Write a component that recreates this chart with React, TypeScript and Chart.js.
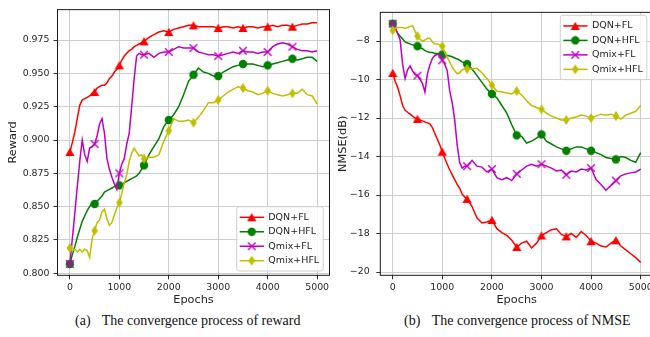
import React, { useEffect, useRef } from "react";
import { Chart, registerables } from "chart.js";

Chart.register(...registerables);

// ---------- data ----------
const epochs = [
  0, 50, 100, 150, 200, 250, 300, 350, 400, 450, 500, 550, 600, 650, 700, 750,
  800, 850, 900, 950, 1000, 1050, 1100, 1150, 1200, 1250, 1300, 1350, 1400, 1450, 1500,
  1600, 1700, 1800, 1900, 2000, 2100, 2200, 2300, 2400, 2500, 2600, 2700, 2800, 2900,
  3000, 3100, 3200, 3300, 3400, 3500, 3600, 3700, 3800, 3900, 4000, 4100, 4200, 4300,
  4400, 4500, 4600, 4700, 4800, 4900, 5000,
];

const seriesNames = ["DQN+FL", "DQN+HFL", "Qmix+FL", "Qmix+HFL"];

const rewardDqnFl = [
  0.891, 0.898, 0.906, 0.916, 0.926, 0.93, 0.931, 0.932, 0.933, 0.935, 0.936, 0.939, 0.94,
  0.941, 0.941, 0.943, 0.946, 0.948, 0.951, 0.953, 0.956, 0.96, 0.963, 0.965, 0.967, 0.968,
  0.97, 0.971, 0.972, 0.973, 0.974,
  0.977, 0.979, 0.981, 0.982, 0.981, 0.983, 0.984, 0.985, 0.986, 0.986, 0.985, 0.985, 0.985,
  0.985, 0.984, 0.985, 0.985, 0.984, 0.985, 0.984, 0.985, 0.985, 0.984, 0.985, 0.985, 0.986,
  0.985, 0.986, 0.986, 0.985, 0.986, 0.987, 0.987, 0.988, 0.988,
];
const rewardDqnHfl = [
  0.807, 0.814, 0.82, 0.827, 0.833, 0.839, 0.843, 0.847, 0.85, 0.853, 0.852, 0.854, 0.856,
  0.858, 0.861, 0.862, 0.863, 0.864, 0.865, 0.866, 0.866, 0.866, 0.868, 0.869, 0.87, 0.871,
  0.872, 0.873, 0.875, 0.878, 0.881,
  0.889, 0.895, 0.901, 0.91, 0.915, 0.919, 0.925, 0.934, 0.944, 0.949, 0.954, 0.951, 0.95,
  0.948, 0.948, 0.951, 0.953, 0.955, 0.956, 0.957, 0.957, 0.957, 0.956, 0.955, 0.956, 0.957,
  0.958, 0.959, 0.96, 0.961, 0.96, 0.961, 0.962, 0.962, 0.959,
];
const rewardQmixFl = [
  0.807, 0.826, 0.845, 0.865, 0.884, 0.9, 0.889, 0.884, 0.894, 0.895, 0.897, 0.903, 0.912,
  0.916, 0.905, 0.886, 0.878, 0.872, 0.867, 0.863, 0.875, 0.882, 0.886, 0.897, 0.905, 0.925,
  0.946, 0.963, 0.965, 0.964, 0.964,
  0.965, 0.962, 0.965, 0.966, 0.966, 0.968, 0.97, 0.969, 0.969, 0.969, 0.966, 0.965, 0.964,
  0.964, 0.963, 0.964, 0.965, 0.966, 0.965, 0.967, 0.966, 0.966, 0.965, 0.966, 0.966, 0.97,
  0.972, 0.973, 0.972, 0.97, 0.968, 0.967, 0.967, 0.966, 0.967,
];
const rewardQmixHfl = [
  0.819, 0.817, 0.818, 0.816, 0.818, 0.816, 0.818, 0.817, 0.812, 0.826, 0.832, 0.838, 0.84,
  0.846, 0.848, 0.841, 0.836, 0.838, 0.844, 0.849, 0.853, 0.86, 0.868, 0.874, 0.884, 0.89,
  0.894, 0.891, 0.888, 0.889, 0.886,
  0.887, 0.887, 0.889, 0.899, 0.907, 0.916, 0.914, 0.914, 0.915, 0.913, 0.917, 0.922, 0.928,
  0.928, 0.93, 0.933, 0.936, 0.938, 0.94, 0.939, 0.937, 0.936, 0.934, 0.935, 0.937, 0.935,
  0.934, 0.933, 0.934, 0.935, 0.935, 0.938, 0.934, 0.933, 0.927,
];

const nmseDqnFl = [
  -9.66, -10.1, -10.4, -10.85, -11.35, -11.6, -11.7, -11.8, -11.9, -12.0, -12.05, -12.1,
  -12.15, -12.2, -12.25, -12.3, -12.5, -12.8, -13.1, -13.4, -13.75, -14.1, -14.4, -14.7,
  -14.95, -15.2, -15.45, -15.65, -15.95, -16.1, -16.2,
  -16.6, -17.2, -17.45, -17.4, -17.3, -17.75, -17.95, -18.1, -18.35, -18.7, -18.5, -18.4,
  -18.75, -18.5, -18.1, -17.95, -17.8, -17.75, -18.05, -18.15, -18.0, -18.2, -17.9, -18.1,
  -18.4, -18.5, -18.65, -18.7, -18.5, -18.35, -18.65, -18.85, -19.05, -19.25, -19.5,
];
const nmseDqnHfl = [
  -7.1, -7.35, -7.6, -7.75, -7.9, -8.05, -8.1, -8.15, -8.2, -8.25, -8.27, -8.35, -8.4, -8.5,
  -8.55, -8.6, -8.6, -8.65, -8.65, -8.7, -8.7, -8.72, -8.75, -8.78, -8.82, -8.88, -8.93, -9.0,
  -9.08, -9.14, -9.2,
  -9.45, -9.8, -10.15, -10.5, -10.75, -10.95, -11.35, -11.75, -12.35, -12.9, -12.95, -13.3,
  -13.2, -13.05, -12.85, -13.2, -13.35, -13.5, -13.6, -13.7, -13.6, -13.5, -13.5, -13.6, -13.7,
  -13.8, -13.9, -14.05, -14.1, -14.15, -14.0, -14.05, -14.2, -14.3, -13.8,
];
const nmseQmixFl = [
  -7.1, -7.3, -7.6, -7.95, -9.2, -9.95, -9.5, -9.3, -9.55, -9.75, -9.8, -10.0, -10.2, -10.65,
  -9.7, -9.25, -8.9, -8.75, -8.7, -8.7, -9.0, -9.2, -9.55, -10.6, -11.2, -12.1, -13.4, -14.3,
  -14.6, -14.5, -14.5,
  -14.2, -14.5, -14.55, -14.8, -14.65, -15.1, -15.2, -15.1, -15.25, -14.9, -14.7, -14.5, -14.4,
  -14.5, -14.4, -14.5, -14.6, -14.75, -14.7, -14.95, -14.75, -14.8, -14.65, -14.7, -14.6,
  -15.2, -15.45, -15.75, -15.5, -15.25, -15.0, -14.9, -14.85, -14.8, -14.65,
];
const nmseQmixHfl = [
  -7.45, -7.35, -7.3, -7.3, -7.3, -7.35, -7.3, -7.25, -7.2, -7.5, -7.75, -7.9, -8.0, -7.95,
  -7.85, -7.85, -8.05, -8.15, -8.15, -8.2, -8.27, -8.6, -8.85, -9.1, -9.35, -9.55, -9.7, -9.65,
  -9.5, -9.45, -9.45,
  -9.45, -9.42, -9.65, -9.95, -10.3, -10.6, -10.65, -10.7, -10.75, -10.6, -10.8, -11.1, -11.35,
  -11.45, -11.55, -11.75, -11.9, -12.0, -12.1, -12.1, -12.0, -11.95, -11.85, -11.9, -12.0,
  -11.9, -11.8, -11.85, -11.8, -11.9, -12.05, -11.85, -11.75, -11.65, -11.35,
];

const xTicks = [0, 1000, 2000, 3000, 4000, 5000];
const rewardTicks = [0.8, 0.825, 0.85, 0.875, 0.9, 0.925, 0.95, 0.975];
const nmseTicks = [-20, -18, -16, -14, -12, -10, -8];

// ---------- styling ----------
const COLORS = ["#ff0000", "#008000", "#bf00bf", "#bfbf00"];
const FONT = "'DejaVu Sans', sans-serif";
const TEXT = "#262626";

function makeMarker(kind: string, color: string): HTMLCanvasElement {
  const c = document.createElement("canvas");
  let w = 10;
  let h = 10;
  if (kind === "diamond") {
    w = 8;
    h = 12;
  }
  c.width = w;
  c.height = h;
  const g = c.getContext("2d")!;
  g.fillStyle = color;
  g.strokeStyle = color;
  if (kind === "triangle") {
    g.beginPath();
    g.moveTo(5, 0.8);
    g.lineTo(9.6, 9.0);
    g.lineTo(0.4, 9.0);
    g.closePath();
    g.fill();
  } else if (kind === "circle") {
    g.beginPath();
    g.arc(5, 5, 4.2, 0, Math.PI * 2);
    g.fill();
  } else if (kind === "cross") {
    g.lineWidth = 1.4;
    g.beginPath();
    g.moveTo(1.2, 1.2);
    g.lineTo(8.8, 8.8);
    g.moveTo(8.8, 1.2);
    g.lineTo(1.2, 8.8);
    g.stroke();
  } else {
    g.beginPath();
    g.moveTo(4, 1);
    g.lineTo(7.3, 6);
    g.lineTo(4, 11);
    g.lineTo(0.7, 6);
    g.closePath();
    g.fill();
  }
  return c;
}

const frameLegendPlugin = {
  id: "frameLegend",
  afterDatasetsDraw(chart: any) {
    const { ctx, chartArea: a } = chart;
    ctx.save();
    ctx.strokeStyle = "#1a1a1a";
    ctx.lineWidth = 1;
    ctx.strokeRect(a.left, a.top, a.right - a.left, a.bottom - a.top);
    ctx.restore();
  },
  afterDraw(chart: any, _args: any, opts: any) {
    const { ctx, chartArea: a } = chart;
    const markers: HTMLCanvasElement[] = opts.markers;
    const w = 86.5;
    const h = 64.3;
    const x = a.right - 6.3 - w;
    const y = opts.pos === "lr" ? a.bottom - 4.3 - h : a.top + 3;
    ctx.save();
    ctx.beginPath();
    const r = 2.5;
    ctx.moveTo(x + r, y);
    ctx.lineTo(x + w - r, y);
    ctx.arcTo(x + w, y, x + w, y + r, r);
    ctx.lineTo(x + w, y + h - r);
    ctx.arcTo(x + w, y + h, x + w - r, y + h, r);
    ctx.lineTo(x + r, y + h);
    ctx.arcTo(x, y + h, x, y + h - r, r);
    ctx.lineTo(x, y + r);
    ctx.arcTo(x, y, x + r, y, r);
    ctx.closePath();
    ctx.fillStyle = "rgba(255,255,255,0.8)";
    ctx.fill();
    ctx.strokeStyle = "#d0d0d0";
    ctx.lineWidth = 1;
    ctx.stroke();
    ctx.font = `9.5px ${FONT}`;
    ctx.textBaseline = "middle";
    ctx.textAlign = "left";
    for (let i = 0; i < seriesNames.length; i++) {
      const cy = y + 10.6 + i * 14.47;
      ctx.strokeStyle = COLORS[i];
      ctx.lineWidth = 1.5;
      ctx.beginPath();
      ctx.moveTo(x + 3, cy);
      ctx.lineTo(x + 27.3, cy);
      ctx.stroke();
      const m = markers[i];
      ctx.drawImage(m, x + 15 - m.width / 2, cy - m.height / 2);
      ctx.fillStyle = TEXT;
      ctx.fillText(seriesNames[i], x + 31.6, cy);
    }
    ctx.restore();
  },
};

interface Panel {
  series: number[][];
  yMin: number;
  yMax: number;
  yTicks: number[];
  yFmt: (v: number) => string;
  yTitle: string;
  yWidth: number;
  yPad: number;
  padRight: number;
  legendPos: string;
}

function buildChart(canvas: HTMLCanvasElement, p: Panel) {
  const markers = [
    makeMarker("triangle", COLORS[0]),
    makeMarker("circle", COLORS[1]),
    makeMarker("cross", COLORS[2]),
    makeMarker("diamond", COLORS[3]),
  ];
  const tickFont = { family: FONT, size: 9.4 };
  const titleFont = { family: FONT, size: 11.3 };
  const grid = {
    color: "#cfcfcf",
    lineWidth: 1,
    drawTicks: true,
    tickLength: 4,
    tickColor: "#333333",
    tickWidth: 1,
  };
  return new Chart(canvas, {
    type: "line",
    data: {
      datasets: p.series.map((s, i) => ({
        label: seriesNames[i],
        data: epochs.map((e, j) => ({ x: e, y: s[j] })),
        borderColor: COLORS[i],
        backgroundColor: COLORS[i],
        borderWidth: 1.5,
        pointStyle: markers[i],
        pointRadius: (ctx: any) => {
          const e = epochs[ctx.dataIndex];
          return e % 500 === 0 && e < 5000 ? 4 : 0;
        },
        pointHoverRadius: 0,
        tension: 0,
        fill: false,
        order: 3 - i,
      })),
    },
    options: {
      responsive: false,
      animation: false,
      events: [],
      layout: { padding: { left: 0, top: 4, right: p.padRight, bottom: 0 } },
      scales: {
        x: {
          type: "linear",
          min: -250,
          max: 5250,
          afterBuildTicks: (s: any) => {
            s.ticks = xTicks.map((v) => ({ value: v }));
          },
          afterFit: (s: any) => {
            s.height = 36.7;
          },
          ticks: {
            autoSkip: false,
            maxRotation: 0,
            padding: 3,
            color: TEXT,
            font: tickFont,
            callback: (v: any) => String(v),
          },
          grid,
          border: { display: false },
          title: {
            display: true,
            text: "Epochs",
            color: TEXT,
            font: titleFont,
            padding: { top: 0, bottom: 5 },
          },
        },
        y: {
          type: "linear",
          min: p.yMin,
          max: p.yMax,
          afterBuildTicks: (s: any) => {
            s.ticks = p.yTicks.map((v) => ({ value: v }));
          },
          afterFit: (s: any) => {
            s.width = p.yWidth;
          },
          ticks: {
            autoSkip: false,
            padding: p.yPad,
            color: TEXT,
            font: tickFont,
            callback: (v: any) => p.yFmt(Number(v)),
          },
          grid,
          border: { display: false },
          title: {
            display: true,
            text: p.yTitle,
            color: TEXT,
            font: titleFont,
            padding: { top: 6.5, bottom: 0 },
          },
        },
      },
      plugins: {
        legend: { display: false },
        tooltip: { enabled: false },
        frameLegend: { pos: p.legendPos, markers },
      } as any,
    },
    plugins: [frameLegendPlugin],
  } as any);
}

export default function App() {
  const leftRef = useRef<HTMLCanvasElement>(null);
  const rightRef = useRef<HTMLCanvasElement>(null);

  useEffect(() => {
    const c1 = buildChart(leftRef.current!, {
      series: [rewardDqnFl, rewardDqnHfl, rewardQmixFl, rewardQmixHfl],
      yMin: 0.7985,
      yMax: 0.9978,
      yTicks: rewardTicks,
      yFmt: (v) => v.toFixed(3),
      yTitle: "Reward",
      yWidth: 57.5,
      yPad: 4,
      padRight: 4.7,
      legendPos: "lr",
    });
    const c2 = buildChart(rightRef.current!, {
      series: [nmseDqnFl, nmseDqnHfl, nmseQmixFl, nmseQmixHfl],
      yMin: -20.17,
      yMax: -6.51,
      yTicks: nmseTicks,
      yFmt: (v) => (v < 0 ? "\u2212" + Math.abs(v) : String(v)),
      yTitle: "NMSE(dB)",
      yWidth: 50.3,
      yPad: 6.7,
      padRight: 11.9,
      legendPos: "ur",
    });
    return () => {
      c1.destroy();
      c2.destroy();
    };
  }, []);

  const cap: React.CSSProperties = {
    position: "absolute",
    top: 313,
    fontFamily: "'Liberation Serif', 'Times New Roman', serif",
    fontSize: 14,
    lineHeight: "16px",
    color: "#111",
    whiteSpace: "pre",
  };

  return (
    <div
      style={{
        position: "absolute",
        left: 0,
        top: 0,
        width: 650,
        height: 337,
        overflow: "hidden",
        background: "#ffffff",
      }}
    >
      <canvas
        ref={leftRef}
        width={335}
        height={312}
        style={{ position: "absolute", left: 0, top: 0, width: 335, height: 312 }}
      />
      <canvas
        ref={rightRef}
        width={335}
        height={312}
        style={{ position: "absolute", left: 330, top: 0, width: 335, height: 312 }}
      />
      <span style={{ ...cap, left: 75 }}>(a)</span>
      <span style={{ ...cap, left: 101.7 }}>The convergence process of reward</span>
      <span style={{ ...cap, left: 404 }}>(b)</span>
      <span style={{ ...cap, left: 431.7 }}>The convergence process of NMSE</span>
    </div>
  );
}
